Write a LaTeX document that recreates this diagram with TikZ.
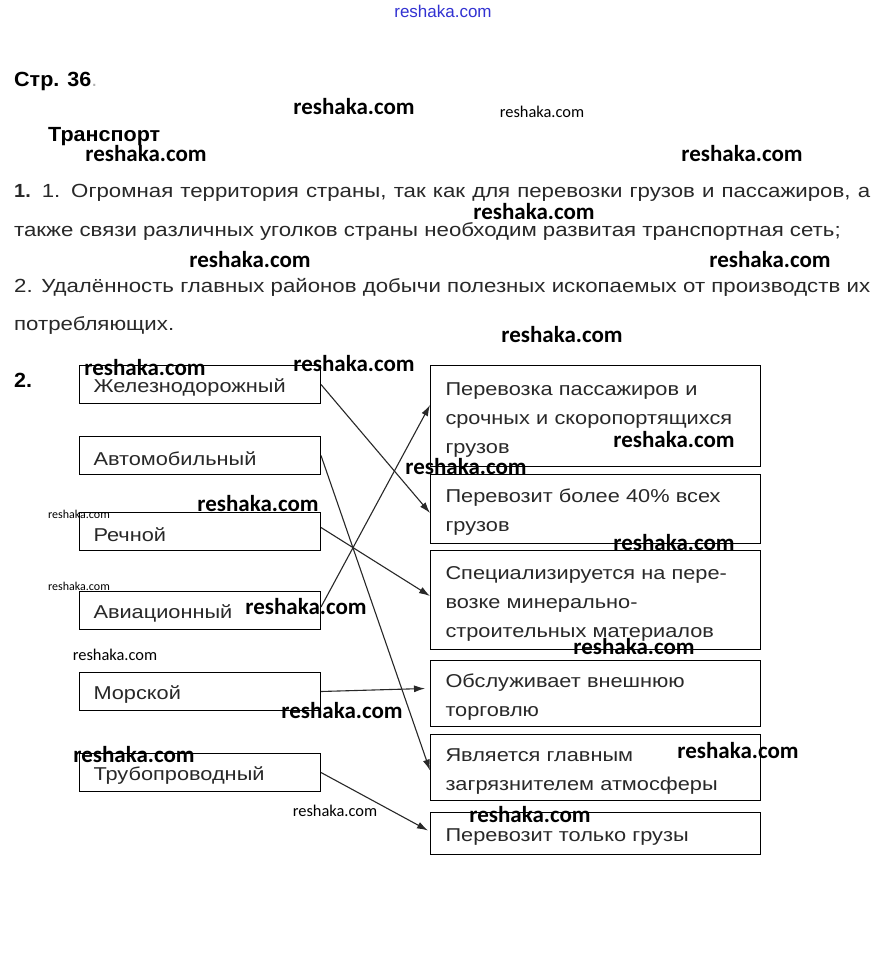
\documentclass[tikz,border=0pt]{standalone}
\usepackage{fontspec}
\newfontfamily\bodyfont[FakeStretch=1.17]{Liberation Sans}
\newfontfamily\headfont[FakeStretch=1.05]{Liberation Sans}
\newfontfamily\markfont{Carlito}
\usetikzlibrary{arrows.meta, positioning}
\definecolor{inkgray}{RGB}{40,40,40}
\definecolor{markblue}{RGB}{50,50,210}
\tikzset{
  modebox/.style={
    draw=black, line width=1pt, anchor=west, align=left,
    minimum width=241pt, minimum height=38pt, text width=213pt, inner xsep=14pt,
    font=\bodyfont\fontsize{18.6}{29}\selectfont, text=inkgray,
    execute at begin node={\rule{0pt}{20pt}}
  },
  rolebox/.style={
    draw=black, line width=1pt, anchor=north west, align=left,
    minimum width=330pt, text width=300pt, inner xsep=15pt,
    font=\bodyfont\fontsize{18.6}{29}\selectfont, text=inkgray,
    execute at begin node={\rule{0pt}{20pt}}
  },
  linkarrow/.style={-{Latex[length=11pt,width=7pt]}, line width=1.1pt, draw=inkgray},
  bodyline/.style={anchor=base west, inner sep=0pt, font=\bodyfont\fontsize{19}{23}\selectfont, text=inkgray},
  headline/.style={anchor=base west, inner sep=0pt, font=\headfont\bfseries\fontsize{20.5}{24}\selectfont, text=black},
  markbig/.style={font=\markfont\bfseries\fontsize{23}{27}\selectfont, inner sep=0pt},
  marksmall/.style={font=\markfont\fontsize{16.4}{19}\selectfont, inner sep=0pt},
  marktiny/.style={font=\markfont\fontsize{12}{14}\selectfont, inner sep=0pt},
}

\begin{document}
\begin{tikzpicture}[x=1pt, y=-1pt]
  \fill[white] (0,0) rectangle (884,971);
  \useasboundingbox (0,0) rectangle (884,971);
  \node[headline] (page) at (14,87) {Стр. 36\textcolor{gray!60}{\mdseries.}};
  \node[headline] (topic) at (48,142) {Транспорт};
  \node[bodyline] (line1) at (14,197) {\makebox[856pt][s]{{\headfont\bfseries 1.} 1. Огромная территория страны, так как для перевозки грузов и пассажиров, а}};
  \node[bodyline] (line2) at (14,236) {также связи различных уголков страны необходим развитая транспортная сеть;};
  \node[bodyline] (line3) at (14,292) {\makebox[856pt][s]{2. Удалённость главных районов добычи полезных ископаемых от производств их}};
  \node[bodyline] (line4) at (14,330) {потребляющих.};
  \node[headline] (task2) at (14,387) {2.};

  \node[modebox] (l1) at (79,384.5) {Железнодорожный};
  \node[modebox] (l2) at (79,455.5) {Автомобильный};
  \node[modebox] (l3) at (79,531.5) {Речной};
  \node[modebox] (l4) at (79,610) {Авиационный};
  \node[modebox] (l5) at (79,691.5) {Морской};
  \node[modebox] (l6) at (79,772.5) {Трубопроводный};

  \node[rolebox, minimum height=101pt] (r1) at (430,365) {Перевозка пассажиров и\\срочных и скоропортящихся\\грузов};
  \node[rolebox, minimum height=69pt] (r2) at (430,474) {Перевозит более 40\% всех\\грузов};
  \node[rolebox, minimum height=99pt] (r3) at (430,550) {Специализируется на пере-\\возке минерально-\\строительных материалов};
  \node[rolebox, minimum height=66pt] (r4) at (430,660) {Обслуживает внешнюю\\торговлю};
  \node[rolebox, minimum height=66pt] (r5) at (430,734) {Является главным\\загрязнителем атмосферы};
  \node[rolebox, minimum height=42pt] (r6) at (430,812) {Перевозит только грузы};

  \draw[linkarrow] (l1.east) -- ([yshift=-4pt]r2.west);
  \draw[linkarrow] (l2.east) -- ([yshift=-3pt]r5.west);
  \draw[linkarrow] ([yshift=4pt]l3.east) -- ([yshift=4pt]r3.west);
  \draw[linkarrow] ([yshift=3pt]l4.east) -- ([yshift=11pt]r1.west);
  \draw[linkarrow] (l5.east) -- ([xshift=-5pt,yshift=5pt]r4.west);
  \draw[linkarrow] (l6.east) -- ([xshift=-2pt,yshift=3pt]r6.west);

  \node[inner sep=0pt, font=\fontspec{Liberation Sans}\fontsize{17}{20}\selectfont, text=markblue] (mtop) at (443,11) {reshaka.com};
  \node[markbig] (m1) at (354,107) {reshaka.com};
  \node[marksmall] (m2) at (542,112) {reshaka.com};
  \node[markbig] (m3) at (146,154) {reshaka.com};
  \node[markbig] (m4) at (742,154) {reshaka.com};
  \node[markbig] (m5) at (534,212) {reshaka.com};
  \node[markbig] (m6) at (250,260) {reshaka.com};
  \node[markbig] (m7) at (770,260) {reshaka.com};
  \node[markbig] (m8) at (562,335) {reshaka.com};
  \node[markbig] (m9) at (145,368) {reshaka.com};
  \node[markbig] (m10) at (354,364) {reshaka.com};
  \node[markbig] (m11) at (674,440) {reshaka.com};
  \node[markbig] (m12) at (466,467) {reshaka.com};
  \node[markbig] (m13) at (258,504) {reshaka.com};
  \node[marktiny] (m14) at (79,514) {reshaka.com};
  \node[markbig] (m15) at (674,543) {reshaka.com};
  \node[marktiny] (m16) at (79,586) {reshaka.com};
  \node[markbig] (m17) at (306,607) {reshaka.com};
  \node[markbig] (m18) at (634,647) {reshaka.com};
  \node[marksmall] (m19) at (115,655) {reshaka.com};
  \node[markbig] (m20) at (342,711) {reshaka.com};
  \node[markbig] (m21) at (738,751) {reshaka.com};
  \node[markbig] (m22) at (134,755) {reshaka.com};
  \node[marksmall] (m23) at (335,811) {reshaka.com};
  \node[markbig] (m24) at (530,815) {reshaka.com};
\end{tikzpicture}
\end{document}
